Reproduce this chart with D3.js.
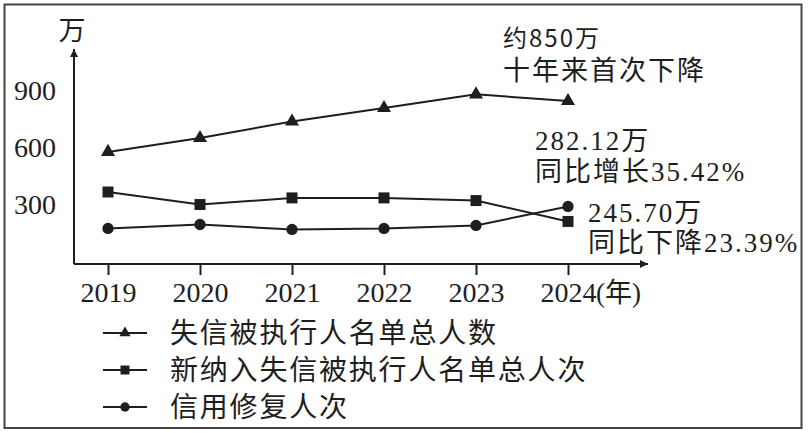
<!DOCTYPE html>
<html>
<head>
<meta charset="utf-8">
<script src="https://cdn.jsdelivr.net/npm/d3@7"></script>
<style>
  html, body { margin: 0; padding: 0; background: #fff; }
  svg { display: block; }
</style>
</head>
<body>
<div id="chart"></div>
<script>
// data (万)
const years = ['2019', '2020', '2021', '2022', '2023', '2024']
const totalList = [574, 647, 734, 805, 877, 842]
const newList = [363, 297, 332, 332, 318, 208]
const repaired = [171, 192, 166, 171, 187, 287]
const yTicks = [300, 600, 900]
const seriesNames = ['失信被执行人名单总人数', '新纳入失信被执行人名单总人次', '信用修复人次']

const W = 808, H = 433
const ink = '#1e1e1e'
const cjk = '"Noto Sans CJK SC", sans-serif'
const serif = '"Liberation Serif", "Noto Sans CJK SC", serif'

const svg = d3.select('#chart').append('svg')
    .attr('width', W)
    .attr('height', H)

// outer frame
svg.append('rect')
    .attr('x', 4.5).attr('y', 4.5)
    .attr('width', 797).attr('height', 423.5)
    .attr('fill', '#fff')
    .attr('stroke', '#444')
    .attr('stroke-width', 2)

x = d3.scalePoint()
    .domain(years)
    .range([108, 568])

y = d3.scaleLinear()
    .domain([-16, 900])
    .range([264, 90])

const x0 = 74, y0 = y.range()[0]

// arrow heads
const defs = svg.append('defs')
defs.append('marker')
    .attr('id', 'arrow')
    .attr('viewBox', '0 0 10 10')
    .attr('refX', 10).attr('refY', 5)
    .attr('markerWidth', 14).attr('markerHeight', 8)
    .attr('markerUnits', 'userSpaceOnUse')
    .attr('orient', 'auto')
    .append('path')
    .attr('d', 'M0,0L10,5L0,10Z')
    .attr('fill', ink)

// axes lines
svg.append('line')
    .attr('x1', x0).attr('y1', y0)
    .attr('x2', x0).attr('y2', 49)
    .attr('stroke', ink).attr('stroke-width', 2)
    .attr('marker-end', 'url(#arrow)')
svg.append('line')
    .attr('x1', x0).attr('y1', y0)
    .attr('x2', 648).attr('y2', y0)
    .attr('stroke', ink).attr('stroke-width', 2)
    .attr('marker-end', 'url(#arrow)')

// y axis ticks
const yAxis = svg.append('g')
    .attr('transform', `translate(${x0},0)`)
    .call(d3.axisLeft(y).tickValues(yTicks).tickSize(0).tickPadding(18))
yAxis.select('.domain').remove()
yAxis.selectAll('text')
    .attr('font-family', serif)
    .attr('font-size', 28)
    .attr('fill', ink)
    .attr('dy', '0.34em')

// x axis ticks
const xAxis = svg.append('g')
    .attr('transform', `translate(0,${y0})`)
    .call(d3.axisBottom(x).tickSize(11).tickPadding(7))
xAxis.select('.domain').remove()
xAxis.selectAll('line').attr('stroke', ink).attr('stroke-width', 2)
xAxis.selectAll('text')
    .attr('font-family', serif)
    .attr('font-size', 28)
    .attr('fill', ink)

svg.append('text')
    .attr('x', x(years[years.length - 1]) + 28)
    .attr('y', 302)
    .attr('font-family', serif)
    .attr('font-size', 27)
    .attr('fill', ink)
    .text('(年)')

svg.append('text')
    .attr('x', x0 - 2)
    .attr('y', 40)
    .attr('text-anchor', 'middle')
    .attr('font-family', cjk)
    .attr('font-size', 27)
    .attr('fill', ink)
    .text('万')

// series
const series = [
    { name: seriesNames[0], values: totalList, sym: d3.symbolTriangle, size: 85, lsize: 55 },
    { name: seriesNames[1], values: newList, sym: d3.symbolSquare, size: 121, lsize: 81 },
    { name: seriesNames[2], values: repaired, sym: d3.symbolCircle, size: 100, lsize: 70 }
]

line = d3.line()
    .x((d, i) => x(years[i]))
    .y(d => y(d))

series.forEach(s => {
    svg.append('path')
        .datum(s.values)
        .attr('d', line)
        .attr('fill', 'none')
        .attr('stroke', ink)
        .attr('stroke-width', 2)

    svg.append('g')
        .selectAll('path')
        .data(s.values)
        .join('path')
        .attr('transform', (d, i) => `translate(${x(years[i])},${y(d)})`)
        .attr('d', d3.symbol().type(s.sym).size(s.size))
        .attr('fill', ink)
})

// annotations
const notes = [
    { lines: ['约850万', '十年来首次下降'], x: 503, y: [47, 80], fam: cjk, fs: [24, 27] },
    { lines: ['282.12万', '同比增长35.42%'], x: 535, y: [150, 181], fam: serif, fs: [27, 27] },
    { lines: ['245.70万', '同比下降23.39%'], x: 588, y: [222, 252], fam: serif, fs: [27, 27] }
]
notes.forEach(n => {
    n.lines.forEach((t, i) => {
        svg.append('text')
            .attr('x', n.x)
            .attr('y', n.y[i])
            .attr('font-family', n.fam)
            .attr('font-size', n.fs[i])
            .attr('letter-spacing', 2)
            .attr('fill', ink)
            .text(t)
    })
})

// legend
const legend = svg.append('g')
    .selectAll('g')
    .data(series)
    .join('g')
    .attr('transform', (d, i) => `translate(0,${[333, 370, 407][i]})`)

legend.append('line')
    .attr('x1', 103).attr('x2', 147)
    .attr('stroke', ink).attr('stroke-width', 2)
legend.append('path')
    .attr('transform', 'translate(125,0)')
    .attr('d', d => d3.symbol().type(d.sym).size(d.lsize)())
    .attr('fill', ink)
legend.append('text')
    .attr('x', 170)
    .attr('dy', '0.36em')
    .attr('font-family', cjk)
    .attr('font-size', 28)
    .attr('letter-spacing', 1.8)
    .attr('fill', ink)
    .text(d => d.name)
</script>
</body>
</html>
